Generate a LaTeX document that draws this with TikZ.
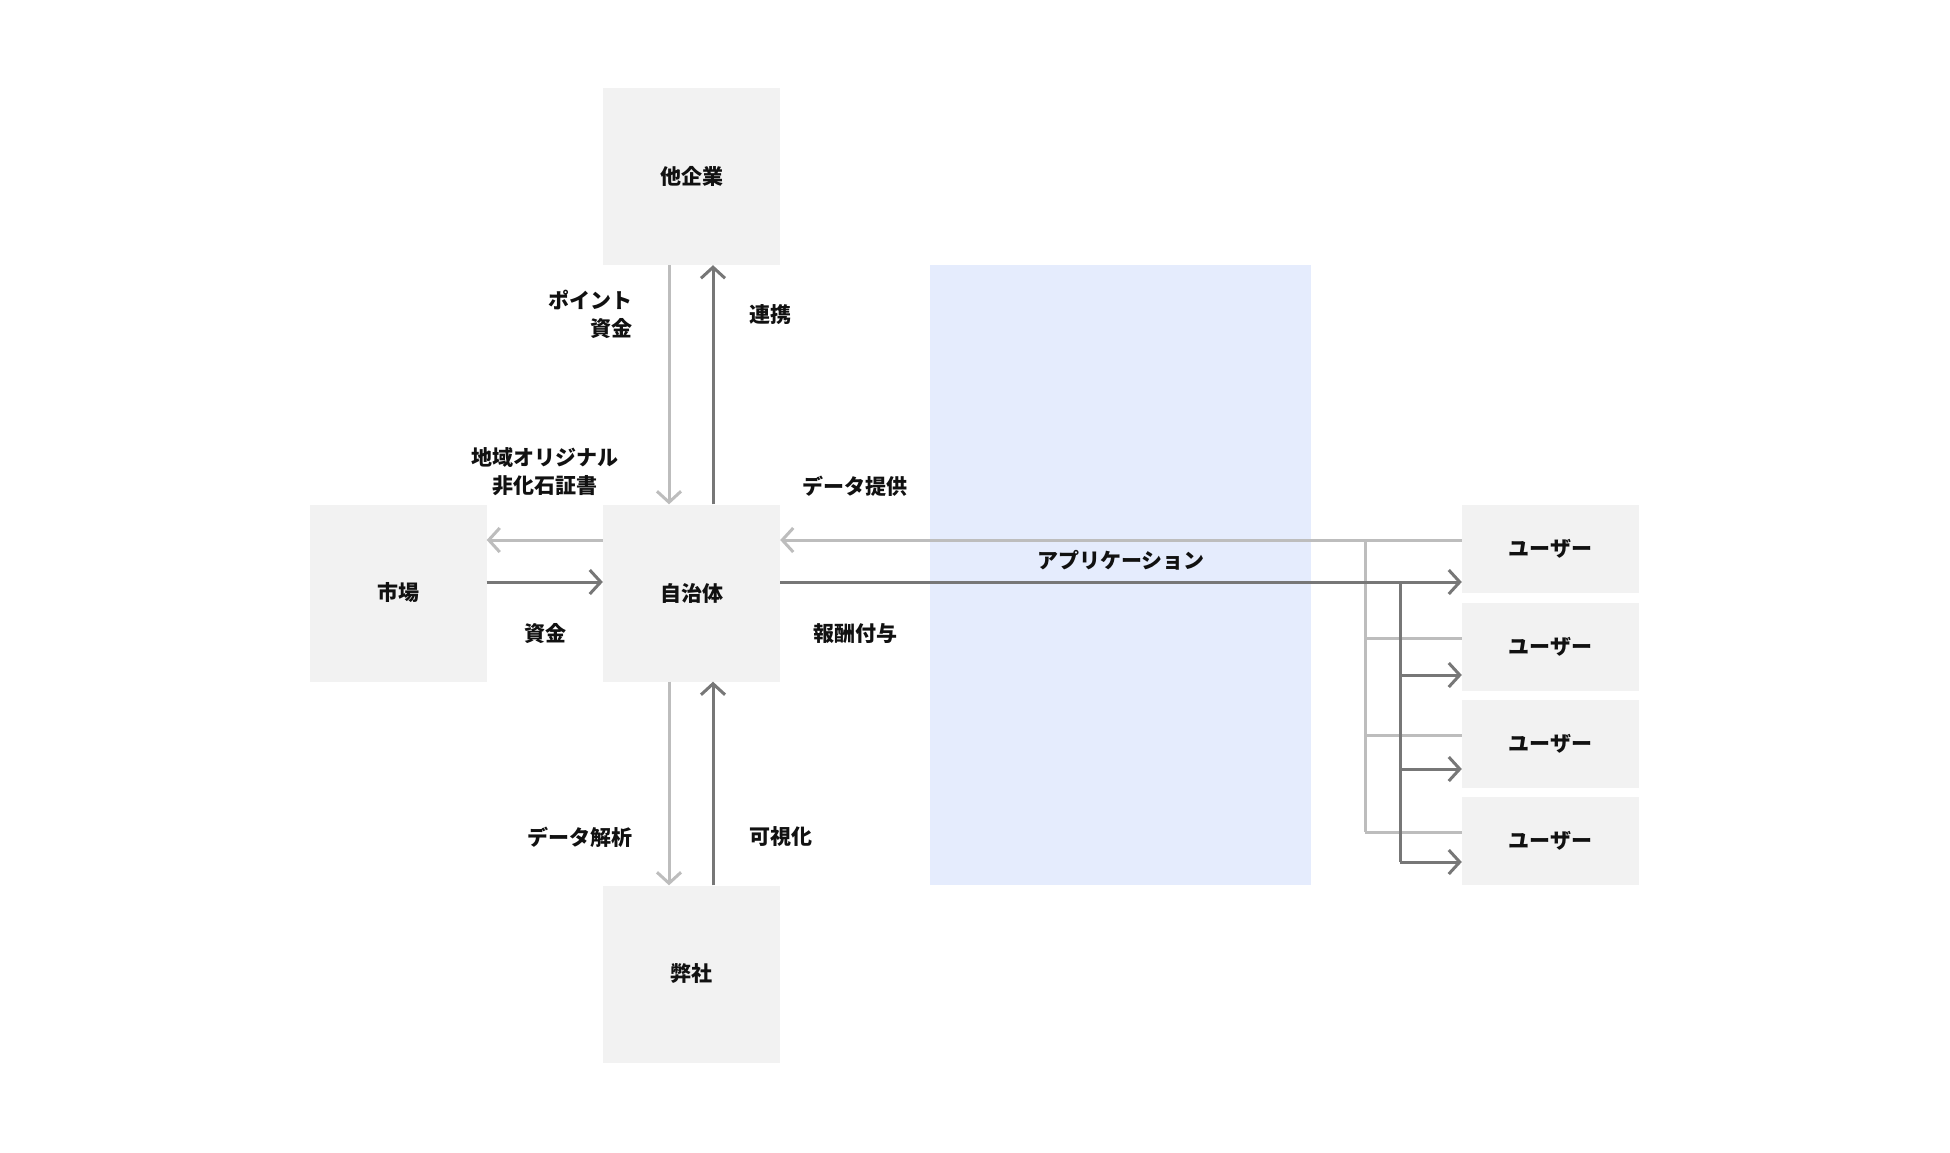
\documentclass[tikz,border=0pt]{standalone}
\usepackage{fontspec}
\setmainfont{Noto Sans CJK JP}
\usetikzlibrary{arrows.meta}
\definecolor{boxfill}{HTML}{F2F2F2}
\definecolor{bluefill}{HTML}{E5ECFD}
\definecolor{lightln}{HTML}{BDBDBD}
\definecolor{darkln}{HTML}{777777}
\definecolor{txt}{HTML}{111111}
\begin{document}
\begin{tikzpicture}[x=1pt,y=-1pt,
  every node/.style={text=txt,font=\fontsize{21}{28}\selectfont\bfseries},
  bigbox/.style={fill=boxfill,minimum width=177pt,minimum height=177pt,inner sep=0pt},
  userbox/.style={fill=boxfill,minimum width=177pt,minimum height=88pt,inner sep=0pt},
  lbl/.style={inner sep=0pt},
  lightline/.style={draw=lightln,line width=3pt},
  darkline/.style={draw=darkln,line width=3pt},
  tip/.style={-{Straight Barb[length=11pt,width=24pt]}}]
\useasboundingbox (0,0) rectangle (1950,1152);
\fill[white] (0,0) rectangle (1950,1152);
\fill[bluefill] (930,265) rectangle (1311,885);
\node[bigbox] (he) at (691.5,176.5) {他企業};
\node[bigbox] (ji) at (691.5,593) {自治体};
\node[bigbox] (ichiba) at (398,593) {市場};
\node[bigbox] (hei) at (691.5,974) {弊社};
\node[userbox] (u1) at (1550.5,549) {ユーザー};
\node[userbox] (u2) at (1550.5,647) {ユーザー};
\node[userbox] (u3) at (1550.5,744) {ユーザー};
\node[userbox] (u4) at (1550.5,841) {ユーザー};
\coordinate (lx) at (669,0);
\coordinate (dx) at (713,0);
\coordinate (ly) at (0,540);
\coordinate (dy) at (0,582);
\coordinate (lv) at (1365,0);
\coordinate (dv) at (1400,0);
% vertical pairs
\draw[lightline,tip] (he.south -| lx) -- (ji.north -| lx);
\draw[darkline,tip] (ji.north -| dx) -- (he.south -| dx);
\draw[lightline,tip] (ji.south -| lx) -- (hei.north -| lx);
\draw[darkline,tip] (hei.north -| dx) -- (ji.south -| dx);
% market
\draw[lightline,tip] (ji.west |- ly) -- (ichiba.east |- ly);
\draw[darkline,tip] (ichiba.east |- dy) -- (ji.west |- dy);
% users light
\draw[lightline,tip] (u1.west |- ly) -- (ji.east |- ly);
\draw[lightline] (lv |- ly) -- (lv |- 0,832);
\draw[lightline] (u2.west |- 0,638) -- (lv |- 0,638);
\draw[lightline] (u3.west |- 0,735) -- (lv |- 0,735);
\draw[lightline] (u4.west |- 0,832) -- (lv |- 0,832);
% users dark
\draw[darkline,tip] (ji.east |- dy) -- (u1.west |- dy);
\draw[darkline] (dv |- dy) -- (dv |- 0,862);
\draw[darkline,tip] (dv |- 0,675) -- (u2.west |- 0,675);
\draw[darkline,tip] (dv |- 0,769) -- (u3.west |- 0,769);
\draw[darkline,tip] (dv |- 0,862) -- (u4.west |- 0,862);
% labels
\node[lbl,anchor=east,align=right] (l1) at (633,314) {ポイント\\資金};
\node[lbl,anchor=west] (l2) at (749,315) {連携};
\node[lbl,align=center] (l3) at (545,472) {地域オリジナル\\非化石証書};
\node[lbl] (l4) at (855,486) {データ提供};
\node[lbl] (l5) at (545,634) {資金};
\node[lbl] (l6) at (855,634) {報酬付与};
\node[lbl] (l7) at (1121,560) {アプリケーション};
\node[lbl,anchor=east] (l8) at (633,837) {データ解析};
\node[lbl,anchor=west] (l9) at (749,837) {可視化};
\end{tikzpicture}
\end{document}
